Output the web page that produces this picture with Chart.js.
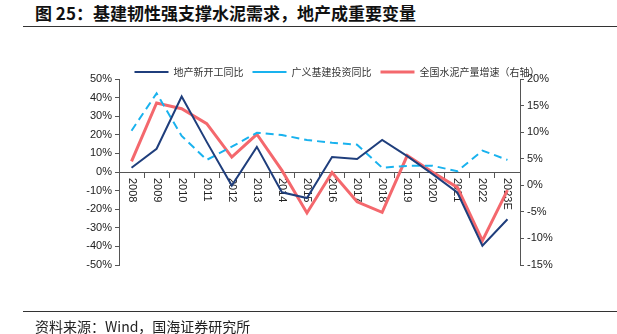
<!DOCTYPE html>
<html>
<head>
<meta charset="utf-8">
<script src="https://cdn.jsdelivr.net/npm/chart.js@4.4.1/dist/chart.umd.min.js"></script>
<style>
  body { margin: 0; background: #fff; }
  #wrap { position: relative; width: 617px; height: 334px; overflow: hidden; }
  #chart { position: absolute; left: 0; top: 0; }
  .title { position: absolute; left: 35px; top: 2px; font: bold 17px "Noto Sans CJK SC", sans-serif; color: #111; line-height: 22px; white-space: nowrap; }
  .rule { position: absolute; left: 23px; width: 594px; height: 0; border-top: 1px solid #333; }
  .source { position: absolute; left: 35px; top: 317px; font: 14px "Noto Sans CJK SC", sans-serif; color: #222; line-height: 18px; white-space: nowrap; }
</style>
</head>
<body>
<div id="wrap">
  <div class="title">图 25：基建韧性强支撑水泥需求，地产成重要变量</div>
  <div class="rule" style="top:26px"></div>
  <canvas id="chart" width="617" height="334"></canvas>
  <div class="rule" style="top:311px"></div>
  <div class="source">资料来源：Wind，国海证券研究所</div>
</div>
<script>
// Categories
const years = ["2008", "2009", "2010", "2011", "2012", "2013", "2014", "2015",
  "2016", "2017", "2018", "2019", "2020", "2021", "2022", "2023E"];

// Series (%)
const newStarts = [2.3, 12.5, 40.6, 16.2, -7.3, 13.5, -10.9, -14.0, 8.1, 7.0, 17.2, 8.5, -1.0, -11.0, -39.6, -25.4];
const infraInvest = [22.2, 42.3, 19.4, 6.5, 13.6, 21.1, 19.9, 17.2, 15.7, 14.7, 2.3, 3.3, 3.4, 0.4, 11.5, 6.5];
const cementGrowth = [4.5, 15.5, 14.4, 11.6, 5.3, 9.6, 2.8, -5.2, 2.4, -3.1, -5.1, 5.6, 2.5, -0.4, -10.4, -0.9];

// Axis ranges
const leftTicks = { min: -50, max: 50, step: 10 };
const rightTicks = { min: -15, max: 20, step: 5 };

const axisColor = "#555";
const tickFont = { family: "'Liberation Sans', Arial, sans-serif", size: 11 };

// year labels read top-to-bottom, drawn under the lines
const yearLabels = {
  id: "yearLabels",
  beforeDatasetsDraw(chart) {
    const ctx = chart.ctx;
    const xs = chart.scales.x;
    const y0 = chart.scales.y.getPixelForValue(0);
    ctx.save();
    ctx.font = "11px 'Liberation Sans', Arial, sans-serif";
    ctx.fillStyle = "#222";
    ctx.textAlign = "left";
    ctx.textBaseline = "middle";
    years.forEach((lab, i) => {
      ctx.save();
      ctx.translate(xs.getPixelForValue(i), y0 + 6);
      ctx.rotate(Math.PI / 2);
      ctx.fillText(lab, 0, 0);
      ctx.restore();
    });
    ctx.restore();
  }
};

// keep legend tight above the plot
const legendHeight = {
  id: "legendHeight",
  afterInit(chart) {
    const fit = chart.legend.fit;
    chart.legend.fit = function () {
      fit.call(this);
      this.height = 21;
    };
  }
};

new Chart(document.getElementById("chart"), {
  type: "line",
  data: {
    labels: years,
    datasets: [
      {
        label: "地产新开工同比",
        data: newStarts,
        yAxisID: "y",
        borderColor: "#1F3E7C",
        backgroundColor: "#1F3E7C",
        borderWidth: 2,
      },
      {
        label: "广义基建投资同比",
        data: infraInvest,
        yAxisID: "y",
        borderColor: "#19B2EE",
        backgroundColor: "#19B2EE",
        borderWidth: 2,
        borderDash: [8, 5],
      },
      {
        label: "全国水泥产量增速（右轴）",
        data: cementGrowth,
        yAxisID: "y1",
        borderColor: "#F4686D",
        backgroundColor: "#F4686D",
        borderWidth: 3,
      },
    ],
  },
  options: {
    responsive: false,
    animation: false,
    elements: { point: { radius: 0 }, line: { tension: 0 } },
    layout: { padding: { left: 60, right: 3, top: 58, bottom: 69 } },
    plugins: {
      tooltip: { enabled: false },
      legend: {
        position: "top",
        labels: {
          usePointStyle: true,
          pointStyle: "line",
          pointStyleWidth: 34,
          padding: 9,
          color: "#333",
          font: { family: "'Noto Sans CJK SC', sans-serif", size: 10 },
        },
      },
    },
    scales: {
      x: {
        type: "category",
        position: { y: 0 },
        offset: true,
        ticks: { display: false },
        grid: { offset: true, drawOnChartArea: false, drawTicks: true, tickLength: 5, color: axisColor },
        border: { color: axisColor, width: 1 },
      },
      y: {
        position: "left",
        min: leftTicks.min,
        max: leftTicks.max,
        afterFit(s) { s.width = 59; },
        ticks: { stepSize: leftTicks.step, padding: 3, color: "#222", font: tickFont, callback: v => v + "%" },
        grid: { drawOnChartArea: false, tickLength: 4, color: axisColor },
        border: { color: axisColor, width: 1 },
      },
      y1: {
        position: "right",
        min: rightTicks.min,
        max: rightTicks.max,
        afterFit(s) { s.width = 94; },
        ticks: { stepSize: rightTicks.step, padding: 3, color: "#222", font: tickFont, callback: v => v + "%" },
        grid: { drawOnChartArea: false, tickLength: 4, color: axisColor },
        border: { color: axisColor, width: 1 },
      },
    },
  },
  plugins: [yearLabels, legendHeight],
});
</script>
</body>
</html>
